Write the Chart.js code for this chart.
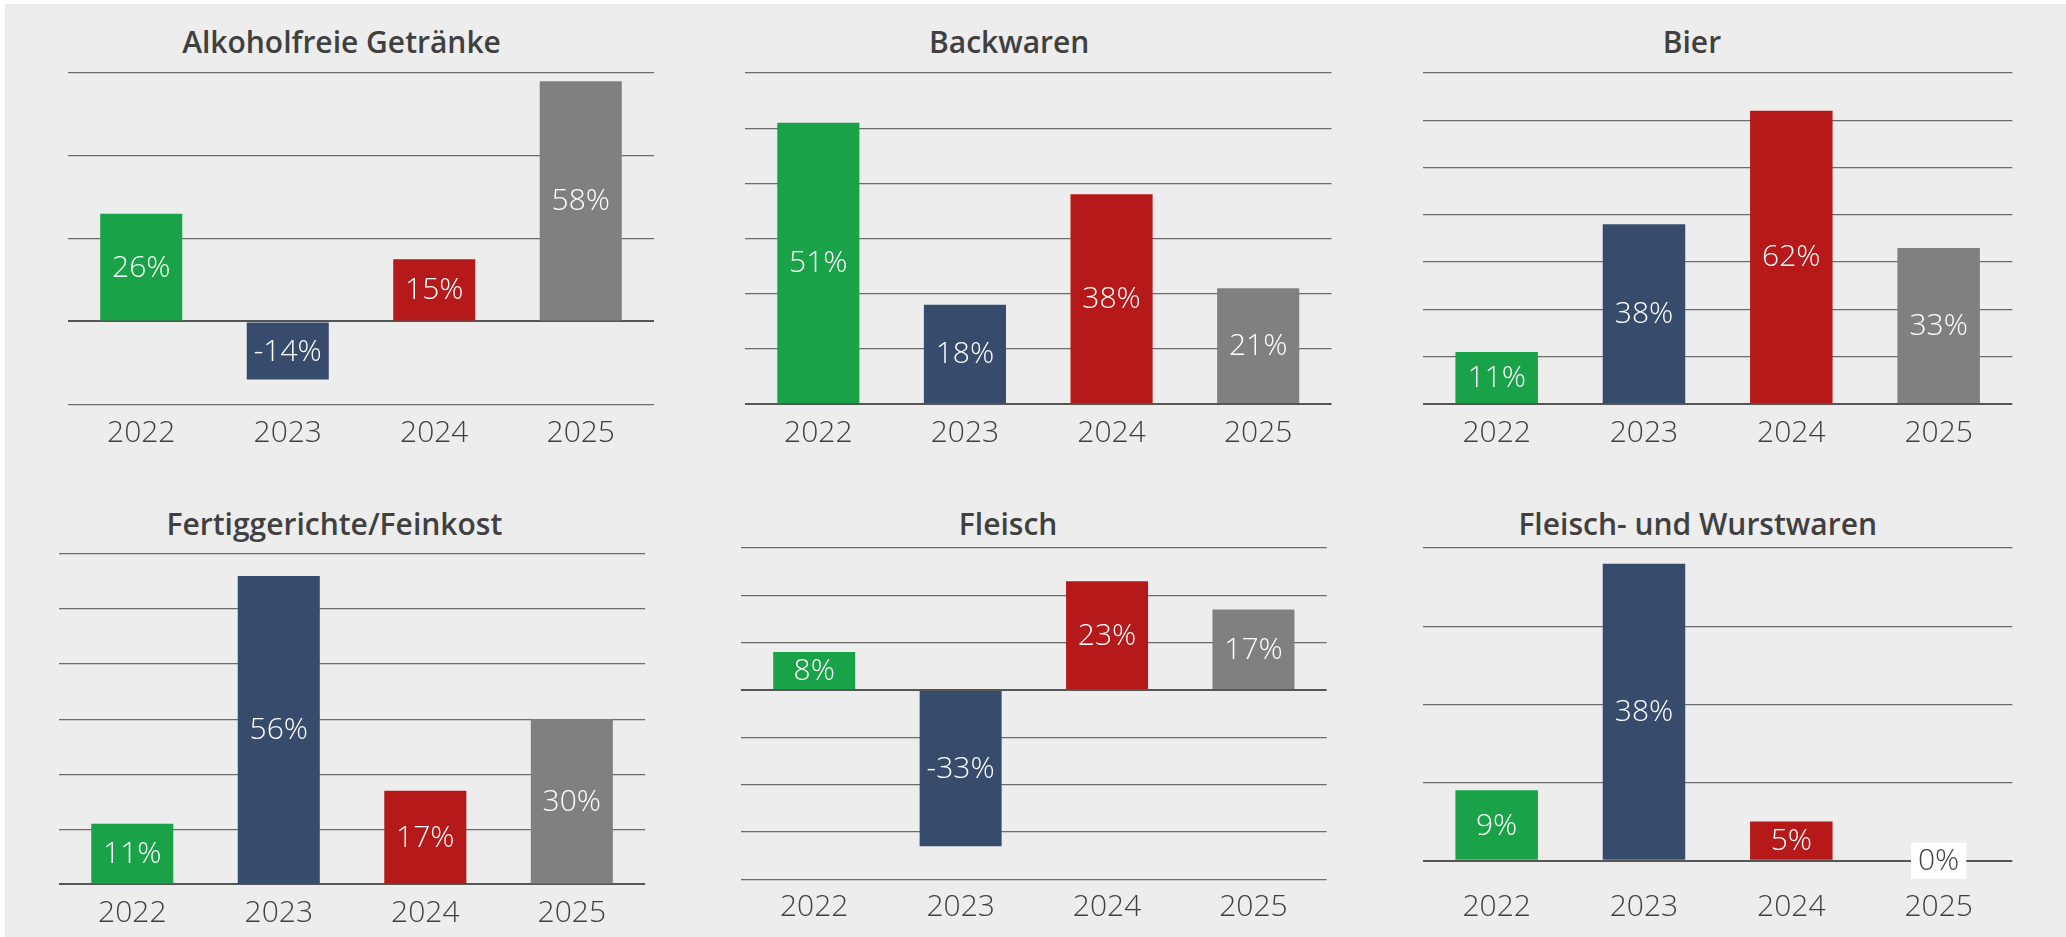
<!DOCTYPE html>
<html>
<head>
<meta charset="utf-8">
<script src="https://cdn.jsdelivr.net/npm/chart.js"></script>
<style>
  html, body { margin: 0; padding: 0; background: #fff; }
  body { width: 2066px; height: 937px; position: relative; overflow: hidden; }
  #bg { position: absolute; left: 5px; top: 4px; right: 0; bottom: 0; background: #ededed; }
  .title {
    position: absolute; font: 600 30px 'Open Sans', sans-serif; line-height: 30px;
    color: #404040; white-space: nowrap; transform: translateX(-50%);
  }
  canvas { position: absolute; }
</style>
</head>
<body>
<div id="bg"></div>
<script>
// Daten
const years = ['2022', '2023', '2024', '2025'];

const alkoholfreie = [26, -14, 15, 58];
const backwaren = [51, 18, 38, 21];
const bier = [11, 38, 62, 33];
const fertiggerichte = [11, 56, 17, 30];
const fleisch = [8, -33, 23, 17];
const wurstwaren = [9, 38, 5, 0];

const titles = ['Alkoholfreie Getränke', 'Backwaren', 'Bier', 'Fertiggerichte/Feinkost', 'Fleisch', 'Fleisch- und Wurstwaren'];
const series = [alkoholfreie, backwaren, bier, fertiggerichte, fleisch, wurstwaren];
const yMin = [-20, 0, 0, 0, -40, 0];
const yMax = [60, 60, 70, 60, 30, 40];
const yStep = [20, 10, 10, 10, 10, 10];

const barColors = ['#19a247', '#374c6c', '#b5191a', '#808080'];

// Layout (Pixel): Plotbereich links/rechts/oben/unten, Abstand der Jahreszahlen, Titelmitte + Titel-Baseline
const panels = [
  { l: 68,     r: 654,    t: 72.7,  b: 404,   pad: 11,   tx: 341.5,  ty: 53.3 },
  { l: 745,    r: 1331.5, t: 72.7,  b: 403.7, pad: 11.6, tx: 1009.2, ty: 53.3 },
  { l: 1422.7, r: 2012,   t: 72.7,  b: 403.7, pad: 11.6, tx: 1691.9, ty: 53.3 },
  { l: 59.4,   r: 645.5,  t: 554.3, b: 884.7, pad: 11,   tx: 334.4,  ty: 535.3 },
  { l: 740.9,  r: 1326.6, t: 548,   b: 879.3, pad: 9.7,  tx: 1008.1, ty: 535.3 },
  { l: 1422.7, r: 2012,   t: 548,   b: 860.7, pad: 28.3, tx: 1697.7, ty: 535.3 },
];

const FONT = "'Open Sans'";
const TEXT = '#404040';

// Prozentwerte mittig in die Balken schreiben
const valueLabels = {
  id: 'valueLabels',
  afterDatasetsDraw(chart) {
    const ctx = chart.ctx;
    const meta = chart.getDatasetMeta(0);
    const values = chart.data.datasets[0].data;
    ctx.save();
    ctx.font = '300 30px ' + FONT;
    ctx.textAlign = 'center';
    ctx.textBaseline = 'middle';
    meta.data.forEach((bar, i) => {
      const v = values[i];
      const txt = v + '%';
      const y = (bar.y + bar.base) / 2;
      if (v === 0) {
        const w = ctx.measureText(txt).width + 14;
        ctx.fillStyle = '#fff';
        ctx.fillRect(bar.x - w / 2, y - 18, w, 36);
        ctx.fillStyle = TEXT;
      } else {
        ctx.fillStyle = '#fff';
      }
      ctx.fillText(txt, bar.x, y + 1);
    });
    ctx.restore();
  }
};

function makeChart(i) {
  const p = panels[i];
  const axisH = 2 * p.pad + 36;
  const left = p.l - 10, top = p.t - 10;
  const w = Math.ceil(p.r - p.l + 20);
  const h = Math.ceil(p.b - p.t + 10 + axisH + 10);

  const title = document.createElement('div');
  title.className = 'title';
  title.textContent = titles[i];
  title.style.left = p.tx + 'px';
  title.style.top = (p.ty - 26.6) + 'px';
  document.body.appendChild(title);

  const canvas = document.createElement('canvas');
  canvas.width = w;
  canvas.height = h;
  canvas.style.left = left + 'px';
  canvas.style.top = top + 'px';
  document.body.appendChild(canvas);

  new Chart(canvas.getContext('2d'), {
    type: 'bar',
    data: {
      labels: years,
      datasets: [{
        data: series[i],
        backgroundColor: barColors,
        borderWidth: 0,
        categoryPercentage: 1,
        barPercentage: 0.56
      }]
    },
    options: {
      responsive: false,
      animation: false,
      layout: {
        padding: { left: p.l - left, right: left + w - p.r, top: p.t - top, bottom: h - (p.b - top) - axisH }
      },
      plugins: { legend: { display: false }, tooltip: { enabled: false } },
      scales: {
        x: {
          offset: true,
          grid: { display: false, drawTicks: false },
          border: { display: false },
          ticks: { color: TEXT, padding: p.pad, font: { family: FONT, size: 30, weight: '300', lineHeight: 1.2 } }
        },
        y: {
          min: yMin[i],
          max: yMax[i],
          ticks: { display: false, stepSize: yStep[i] },
          border: { display: false },
          grid: {
            drawTicks: false,
            color: c => c.tick && c.tick.value === 0 ? '#555555' : '#6c6c6c',
            lineWidth: c => c.tick && c.tick.value === 0 ? 2 : 1.3
          }
        }
      }
    },
    plugins: [valueLabels]
  });
}

Promise.all([
  document.fonts.load('300 30px ' + FONT),
  document.fonts.load('600 30px ' + FONT)
]).catch(() => {}).then(() => {
  for (let i = 0; i < series.length; i++) makeChart(i);
});
</script>
</body>
</html>
